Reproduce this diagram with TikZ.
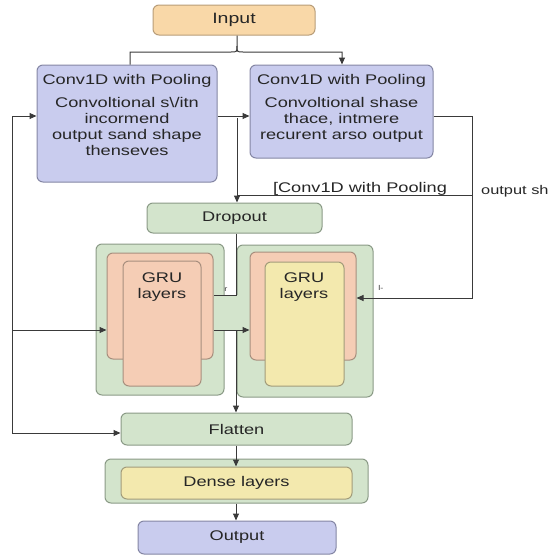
\documentclass[tikz,border=0pt]{standalone}
\usepackage{fontspec}
\setmainfont{Liberation Sans}[FakeStretch=1.3]
\usetikzlibrary{arrows.meta,positioning}

\definecolor{inputfill}{HTML}{F9D8A8}
\definecolor{inputdraw}{HTML}{B89D78}
\definecolor{convfill}{HTML}{C9CCEE}
\definecolor{convdraw}{HTML}{8486A4}
\definecolor{greenfill}{HTML}{D3E4CC}
\definecolor{greendraw}{HTML}{8A9A86}
\definecolor{salmonfill}{HTML}{F5CDB5}
\definecolor{salmondraw}{HTML}{A88F7E}
\definecolor{yellowfill}{HTML}{F3E9AE}
\definecolor{yellowdraw}{HTML}{A29C7A}
\definecolor{linecol}{HTML}{3A3A3A}

\tikzset{
  box/.style={draw, rounded corners=6pt, line width=1pt, inner sep=0pt},
  inbox/.style={box, fill=inputfill, draw=inputdraw},
  convbox/.style={box, fill=convfill, draw=convdraw},
  greenbox/.style={box, fill=greenfill, draw=greendraw},
  salmonbox/.style={box, fill=salmonfill, draw=salmondraw},
  yellowbox/.style={box, fill=yellowfill, draw=yellowdraw},
  txt/.style={inner sep=0pt, align=center, text=black!85,
    font=\fontsize{14}{16}\selectfont},
  tinytxt/.style={inner sep=0pt, text=black!75, font=\fontsize{7}{8}\selectfont},
  wire/.style={draw=linecol, line width=1pt},
  arr/.style={wire, -{Triangle[length=7pt,width=6pt]}}
}

\begin{document}
\begin{tikzpicture}[x=1pt, y=-1pt]
  \useasboundingbox (0,0) rectangle (550,557);
  \clip (0,0) rectangle (550,557);

  % top
  \node[inbox, minimum width=162, minimum height=30] (input) at (234,20) {};
  \node[txt, font=\fontsize{15}{16}\selectfont] (inputtxt) at (input.center) {Input};

  \node[convbox, minimum width=180, minimum height=117] (convA) at (127,123.5) {};
  \node[txt, below=10pt of convA.north] (convAtxt)
    {Conv1D with Pooling\\[7pt]Convoltional s\textbackslash/itn\\incormend\\output sand shape\\thenseves};

  \node[convbox, minimum width=183, minimum height=93] (convB) at (341.5,111.5) {};
  \node[txt, below=10pt of convB.north] (convBtxt)
    {Conv1D with Pooling\\[7pt]Convoltional shase\\thace, intmere\\recurent arso output};

  \node[greenbox, minimum width=175, minimum height=30] (dropout) at (234.5,218) {};
  \node[txt] (dropouttxt) at (dropout.center) {Dropout};

  % GRU blocks
  \node[greenbox, minimum width=128, minimum height=151] (gruLout) at (160,319.5) {};
  \node[greenbox, minimum width=136, minimum height=152] (gruRout) at (305,321) {};
  \fill[greenfill] (213,295) rectangle (250,330);
  \node[salmonbox, minimum width=106, minimum height=106] (gruLmid) at (160,306) {};
  \node[salmonbox, minimum width=78, minimum height=125] (gruLin) at (162,323.5) {};
  \node[txt] (gruLtxt) at (162,287) {GRU\\layers};
  \node[salmonbox, minimum width=106, minimum height=108] (gruRmid) at (303,306) {};
  \node[yellowbox, minimum width=79, minimum height=124] (gruRin) at (304.5,324) {};
  \node[txt] (gruRtxt) at (304,287) {GRU\\layers};

  \node[greenbox, minimum width=231, minimum height=32] (flatten) at (236.5,429) {};
  \node[txt] (flattentxt) at (flatten.center) {Flatten};

  \node[greenbox, minimum width=263, minimum height=44] (denseout) at (236.5,481) {};
  \node[yellowbox, minimum width=231, minimum height=32] (densein) at (236.5,483) {};
  \node[txt] (densetxt) at (densein.center) {Dense layers};

  \node[convbox, minimum width=198, minimum height=33] (output) at (237,537.5) {};
  \node[txt] (outputtxt) at (output.center) {Output};

  % labels
  \node[txt, anchor=base] (poolLbl) at (360,192) {[Conv1D with Pooling};
  \node[txt, anchor=base west, font=\fontsize{12.6}{14}\selectfont] (shapeLbl) at (481,194) {output sh};
  \node[tinytxt] (markL) at (226,290) {r};
  \node[tinytxt] (markR) at (381,288) {l-};

  % connectors
  \coordinate (brace) at (237,46);
  \coordinate (braceL) at (130,52);
  \coordinate (braceR) at (342,52);
  \draw[wire] (input.south -| brace) -- (brace) .. controls (237,52) .. (231,52) -- (braceL) -- (braceL |- convA.north);
  \draw[arr] (brace) .. controls (237,52) .. (243,52) -- (braceR) -- (braceR |- convB.north);

  \coordinate (loopTop) at (12,116);
  \coordinate (loopMid) at (12,330);
  \coordinate (loopBot) at (12,433);
  \draw[arr] (loopMid) -- (loopTop) -- (loopTop -| convA.west);
  \draw[arr] (loopMid) -- (loopMid -| gruLmid.west);
  \draw[arr] (loopMid) -- (loopBot) -- (loopBot -| flatten.west);

  \draw[arr] (loopTop -| convA.east) -- (loopTop -| convB.west);

  \coordinate (split) at (237,118);
  \draw[arr] (split) -- (split |- dropout.north);

  \coordinate (rtTop) at (472,116);
  \coordinate (rtBot) at (472,298);
  \coordinate (midL) at (237,195);
  \draw[arr] (loopTop -| convB.east) -- (rtTop) -- (rtBot) -- (rtBot -| gruRmid.east);
  \draw[wire] (midL) -- (midL -| rtTop);

  \coordinate (dropJoin) at (236,295);
  \draw[wire] (dropout.south -| dropJoin) -- (dropJoin) -- (dropJoin -| gruLmid.east);

  \coordinate (gruJoin) at (236,330);
  \draw[arr] (gruJoin -| gruLmid.east) -- (gruJoin -| gruRmid.west);
  \draw[arr] (gruJoin) -- (gruJoin |- flatten.north);

  \draw[arr] (flatten.south -| gruJoin) -- (densein.north -| gruJoin);
  \draw[arr] (denseout.south -| gruJoin) -- (output.north -| gruJoin);
\end{tikzpicture}
\end{document}
